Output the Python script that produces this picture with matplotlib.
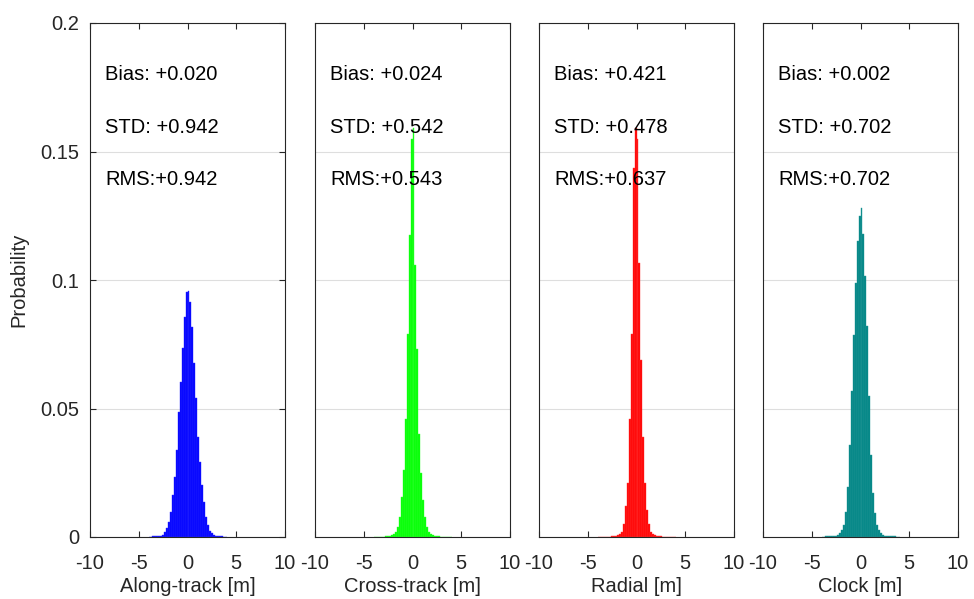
import numpy as np
import matplotlib
matplotlib.use("Agg")
import matplotlib.pyplot as plt

plt.rcParams['font.family'] = ['Liberation Sans', 'DejaVu Sans']

# Histogram bins: 0.2 m wide, from -4 m to +4 m
bin_edges = np.round(np.arange(-4.0, 4.0001, 0.2), 2)

along_track = [0.0001, 0.0001, 0.0002, 0.0002, 0.0003, 0.0004, 0.0005, 0.0008, 0.0018, 0.0034,
               0.0057, 0.0099, 0.0163, 0.0235, 0.0339, 0.0488, 0.0604, 0.0734, 0.0857, 0.0952,
               0.0957, 0.0916, 0.0818, 0.0676, 0.0540, 0.0390, 0.0292, 0.0202, 0.0137, 0.0079,
               0.0047, 0.0025, 0.0014, 0.0008, 0.0005, 0.0003, 0.0002, 0.0002, 0.0001, 0.0001]

cross_track = [0.0, 0.0, 0.0, 0.0, 0.0001, 0.0001, 0.0002, 0.0003, 0.0005, 0.0008,
               0.0012, 0.0020, 0.0040, 0.0079, 0.0157, 0.0260, 0.0460, 0.0790, 0.1175, 0.1550,
               0.1590, 0.1060, 0.0730, 0.0400, 0.0250, 0.0144, 0.0079, 0.0040, 0.0020, 0.0012,
               0.0008, 0.0005, 0.0003, 0.0002, 0.0001, 0.0001, 0.0, 0.0, 0.0, 0.0]

radial = [0.0, 0.0, 0.0, 0.0, 0.0, 0.0001, 0.0001, 0.0002, 0.0003, 0.0005,
          0.0008, 0.0010, 0.0020, 0.0050, 0.0120, 0.0210, 0.0460, 0.0790, 0.1435, 0.1590,
          0.1550, 0.1065, 0.0690, 0.0390, 0.0210, 0.0105, 0.0050, 0.0020, 0.0010, 0.0008,
          0.0005, 0.0003, 0.0002, 0.0001, 0.0001, 0.0, 0.0, 0.0, 0.0, 0.0]

clock = [0.0001, 0.0001, 0.0002, 0.0002, 0.0003, 0.0003, 0.0004, 0.0005, 0.0008, 0.0014,
         0.0027, 0.0047, 0.0099, 0.0196, 0.0358, 0.0570, 0.0786, 0.0990, 0.1150, 0.1250,
         0.1280, 0.1180, 0.1015, 0.0820, 0.0550, 0.0320, 0.0170, 0.0092, 0.0047, 0.0027,
         0.0014, 0.0008, 0.0005, 0.0004, 0.0003, 0.0003, 0.0002, 0.0002, 0.0001, 0.0001]

series = [along_track, cross_track, radial, clock]
xlabels = ["Along-track [m]", "Cross-track [m]", "Radial [m]", "Clock [m]"]
colors = ["#0000ff", "#00ff00", "#ff0000", "#008585"]
edge_colors = ["#2e2eff", "#3cff3c", "#ff3c3c", "#2a9a9a"]

bias = [0.020, 0.024, 0.421, 0.002]
std = [0.942, 0.542, 0.478, 0.702]
rms = [0.942, 0.543, 0.637, 0.702]

xticks = [-10, -5, 0, 5, 10]
yticks = [0, 0.05, 0.1, 0.15, 0.2]
ytick_labels = ["0", "0.05", "0.1", "0.15", "0.2"]

fig = plt.figure(figsize=(9.74, 5.99), dpi=100)

W, H = 974.0, 599.0
ax_left = [90, 315, 539, 763]
ax_w = 195
ax_top, ax_bottom = 23, 537
axis_color = "#262626"

for i in range(4):
    ax = fig.add_axes([ax_left[i] / W, (H - ax_bottom) / H,
                       ax_w / W, (ax_bottom - ax_top) / H])
    ax.hist(bin_edges[:-1], bins=bin_edges, weights=series[i],
            color=colors[i], edgecolor=edge_colors[i], linewidth=0.3, zorder=2)
    ax.set_xlim(-10, 10)
    ax.set_ylim(0, 0.2)
    ax.set_xticks(xticks)
    ax.set_xticklabels([str(t) for t in xticks])
    ax.set_yticks(yticks)
    ax.yaxis.grid(True, color="#dedede", linewidth=0.8, zorder=0)
    ax.set_axisbelow(True)
    for s in ax.spines.values():
        s.set_color(axis_color)
        s.set_linewidth(0.8)
    ax.tick_params(axis="x", direction="in", length=4, width=0.8, top=True,
                   color=axis_color, labelsize=14.5, labelcolor=axis_color, pad=12)
    if i == 0:
        ax.set_yticklabels(ytick_labels)
        ax.tick_params(axis="y", direction="in", length=4, width=0.8, right=True,
                       color=axis_color, labelsize=14.5, labelcolor=axis_color, pad=8)
        ax.set_ylabel("Probability", fontsize=14.5, color=axis_color, labelpad=8)
    else:
        ax.tick_params(axis="y", left=False, right=False, labelleft=False)
    ax.set_xlabel(xlabels[i], fontsize=14.5, color=axis_color, labelpad=3)

    ax.text(-8.45, 0.18, "Bias: %+.3f" % bias[i], fontsize=14.5, va="center", zorder=3)
    ax.text(-8.45, 0.1595, "STD: %+.3f" % std[i], fontsize=14.5, va="center", zorder=3)
    ax.text(-8.45, 0.139, "RMS:%+.3f" % rms[i], fontsize=14.5, va="center", zorder=3)

fig.savefig("out.png", dpi=100)
